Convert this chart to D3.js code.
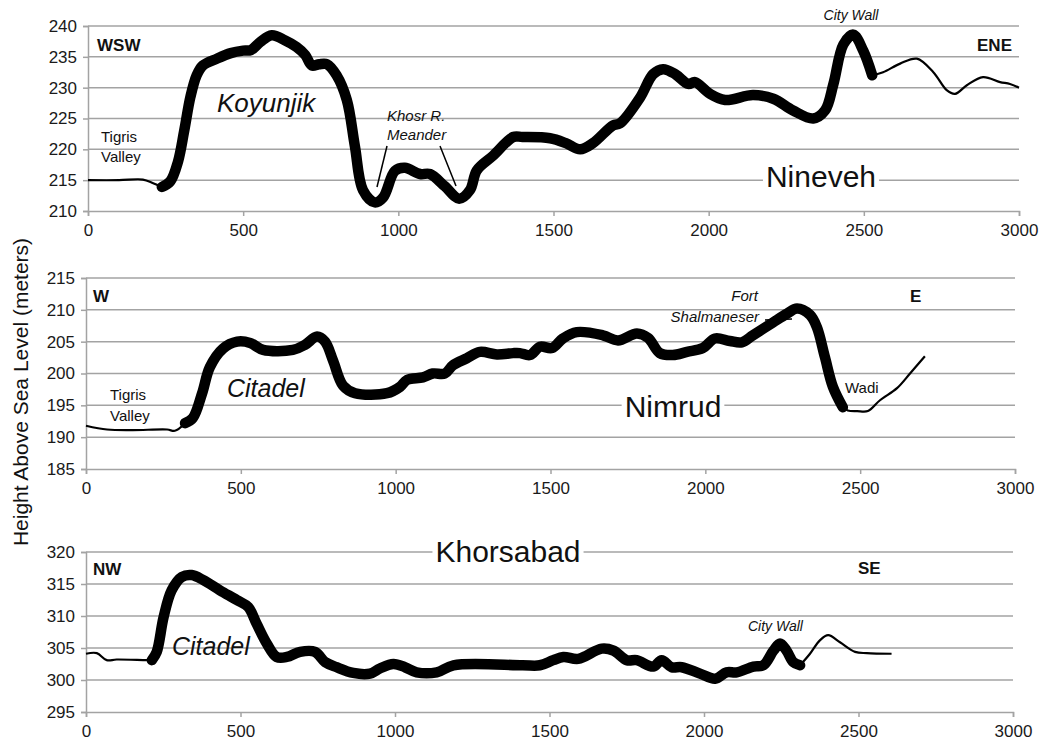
<!DOCTYPE html>
<html>
<head>
<meta charset="utf-8">
<script src="https://cdn.jsdelivr.net/npm/d3@7"></script>
<style>
  body { margin: 0; background: #fff; }
  svg { display: block; font-family: "Liberation Sans", Arial, sans-serif; }
</style>
</head>
<body>
<script>
// elevation profiles, distance in m along the section
var ninevehDist = [0, 100, 177, 210, 238, 265, 290, 310, 330, 350, 370, 415, 460, 500, 525, 555, 592, 634, 672, 700, 721, 745, 770, 801, 834, 860, 886, 924, 951, 989, 1021, 1070, 1102, 1150, 1196, 1231, 1253, 1306, 1370, 1400, 1489, 1540, 1586, 1627, 1692, 1714, 1779, 1821, 1853, 1892, 1934, 1956, 2004, 2053, 2143, 2208, 2272, 2337, 2375, 2402, 2434, 2466, 2498, 2527, 2562, 2617, 2671, 2724, 2767, 2794, 2832, 2884, 2939, 2971, 3000];
var ninevehElev = [215, 215, 215.1, 214.5, 213.9, 214.8, 218, 223, 228.5, 232, 233.6, 234.7, 235.6, 236, 236.1, 237.4, 238.5, 237.7, 236.6, 235.3, 233.6, 233.8, 233.8, 232, 228, 220.5, 213.4, 211.4, 212.2, 216.5, 217, 216, 216, 214, 212, 213.4, 216.6, 219, 222, 222, 221.8, 221, 220, 221, 223.9, 224.2, 228.4, 232.2, 233, 232.2, 230.6, 230.9, 229, 228, 228.8, 228.2, 226.3, 225, 226.3, 230.6, 237, 238.6, 236, 232, 232.5, 233.9, 234.7, 232.5, 229.6, 229, 230.4, 231.7, 230.9, 230.6, 230];

var nimrudDist = [0, 68, 150, 262, 287, 320, 345, 375, 400, 442, 488, 530, 572, 668, 707, 746, 772, 798, 830, 869, 972, 1014, 1037, 1088, 1120, 1159, 1185, 1230, 1272, 1327, 1379, 1401, 1434, 1466, 1505, 1540, 1585, 1669, 1718, 1779, 1815, 1853, 1895, 1941, 1992, 2031, 2079, 2118, 2154, 2218, 2264, 2296, 2338, 2360, 2386, 2412, 2444, 2460, 2490, 2525, 2564, 2619, 2661, 2709];
var nimrudElev = [191.8, 191.2, 191.1, 191.2, 191, 192.2, 193, 196.9, 201, 203.9, 205, 204.8, 203.7, 203.7, 204.5, 205.8, 205, 202, 198.1, 196.9, 196.9, 197.9, 199, 199.4, 200, 200, 201.3, 202.4, 203.4, 203, 203.2, 203.2, 202.9, 204.2, 204, 205.5, 206.5, 206, 205.2, 206.3, 205.6, 203.2, 202.9, 203.4, 204, 205.5, 205.1, 204.9, 206, 208, 209.4, 210.2, 209.2, 207.3, 202.6, 197.9, 194.7, 194.2, 194.1, 194.1, 195.8, 197.7, 200, 202.7];

var khorsabadDist = [0, 35, 67, 99, 196, 213, 229, 251, 277, 310, 342, 380, 434, 488, 525, 552, 585, 617, 650, 693, 741, 774, 811, 865, 919, 951, 995, 1032, 1070, 1135, 1189, 1413, 1469, 1512, 1545, 1593, 1669, 1707, 1750, 1782, 1836, 1863, 1895, 1928, 1987, 2036, 2073, 2106, 2160, 2192, 2225, 2246, 2267, 2289, 2311, 2343, 2375, 2402, 2440, 2489, 2527, 2607];
var khorsabadElev = [304.1, 304.2, 303.1, 303.2, 303.1, 303.1, 304.4, 309.8, 314, 316.1, 316.4, 315.6, 314, 312.5, 311.4, 308.8, 305.7, 303.6, 303.6, 304.4, 304.4, 302.8, 302, 301.1, 301, 301.8, 302.5, 302, 301.2, 301.2, 302.3, 302.3, 302.3, 303.1, 303.6, 303.3, 304.9, 304.6, 303.1, 303.1, 302.1, 303.1, 302, 302, 301, 300.2, 301.2, 301.2, 302.1, 302.3, 304.6, 305.7, 304.6, 302.8, 302.3, 304.1, 306.2, 307, 305.9, 304.4, 304.2, 304.1];

// stretch drawn heavy (inside the site) [from, to]
var ninevehThick = [238, 2527];
var nimrudThick = [320, 2444];
var khorsabadThick = [213, 2311];

var xTicks = [0, 500, 1000, 1500, 2000, 2500, 3000];
var ninevehRange = [210, 240];
var nimrudRange = [185, 215];
var khorsabadRange = [295, 320];

var grey = '#a3a3a3';

var svg = d3.select('body').append('svg')
    .attr('width', 1050)
    .attr('height', 746);

svg.append('rect').attr('width', 1050).attr('height', 746).attr('fill', '#fff');

var panels = [
  { name: 'Nineveh', dist: ninevehDist, elev: ninevehElev, thick: ninevehThick, range: ninevehRange,
    left: 88, right: 1019, top: 26, bottom: 211, titleX: 821, titleY: 187 },
  { name: 'Nimrud', dist: nimrudDist, elev: nimrudElev, thick: nimrudThick, range: nimrudRange,
    left: 86, right: 1015, top: 278, bottom: 469, titleX: 673, titleY: 417 },
  { name: 'Khorsabad', dist: khorsabadDist, elev: khorsabadElev, thick: khorsabadThick, range: khorsabadRange,
    left: 86, right: 1013, top: 552, bottom: 712, titleX: 508, titleY: 562 }
];

panels.forEach(function(p) {
  var x = d3.scaleLinear().domain([0, 3000]).range([p.left, p.right]);
  var y = d3.scaleLinear().domain(p.range).range([p.bottom, p.top]);
  var g = svg.append('g');
  var yTicks = d3.range(p.range[0], p.range[1] + 1, 5);

  // gridlines
  g.selectAll('.grid')
    .data(yTicks.slice(1))
    .enter().append('line')
    .attr('x1', p.left).attr('x2', p.right)
    .attr('y1', function(d) { return y(d); })
    .attr('y2', function(d) { return y(d); })
    .attr('stroke', grey).attr('stroke-width', 1.5);

  var ya = g.append('g')
    .attr('transform', 'translate(' + p.left + ',0)')
    .call(d3.axisLeft(y).tickValues(yTicks).tickSize(5).tickPadding(6).tickFormat(d3.format('d')));
  var xa = g.append('g')
    .attr('transform', 'translate(0,' + p.bottom + ')')
    .call(d3.axisBottom(x).tickValues(xTicks).tickSize(5).tickPadding(8).tickFormat(d3.format('d')));
  [ya, xa].forEach(function(a) {
    a.selectAll('path, line').attr('stroke', grey).attr('stroke-width', 1.5);
    a.selectAll('text').attr('fill', '#1a1a1a').style('font-size', '17px').style('font-family', '"Liberation Sans", Arial, sans-serif');
  });

  // title with white box over the gridline
  var box = g.append('rect').attr('fill', '#fff');
  var t = g.append('text')
    .attr('x', p.titleX).attr('y', p.titleY)
    .attr('text-anchor', 'middle')
    .style('font-size', '30px')
    .attr('fill', '#111')
    .text(p.name);
  var bb = t.node().getBBox();
  box.attr('x', bb.x - 3).attr('y', bb.y + 2)
    .attr('width', bb.width + 6).attr('height', bb.height - 4);

  var pts = p.dist.map(function(d, i) { return [d, p.elev[i]]; });
  var before = pts.filter(function(d) { return d[0] <= p.thick[0]; });
  var inside = pts.filter(function(d) { return d[0] >= p.thick[0] && d[0] <= p.thick[1]; });
  var after = pts.filter(function(d) { return d[0] >= p.thick[1]; });

  var line = d3.line()
    .x(function(d) { return x(d[0]); })
    .y(function(d) { return y(d[1]); })
    .curve(d3.curveCatmullRom.alpha(0.5));

  [before, after].forEach(function(seg) {
    if (seg.length < 2) return;
    g.append('path').attr('d', line(seg))
      .attr('fill', 'none').attr('stroke', '#000').attr('stroke-width', 2.2)
      .attr('stroke-linejoin', 'round');
  });
  g.append('path').attr('d', line(inside))
    .attr('fill', 'none').attr('stroke', '#000').attr('stroke-width', 10.5)
    .attr('stroke-linecap', 'round').attr('stroke-linejoin', 'round');
});

// annotations
function label(txt, px, py, opts) {
  opts = opts || {};
  svg.append('text')
    .attr('x', px).attr('y', py)
    .attr('text-anchor', opts.anchor || 'start')
    .style('font-size', (opts.size || 15) + 'px')
    .style('font-weight', opts.bold ? 'bold' : 'normal')
    .style('font-style', opts.italic ? 'italic' : 'normal')
    .attr('fill', '#111')
    .text(txt);
}
function leader(x1, y1, x2, y2) {
  svg.append('line').attr('x1', x1).attr('y1', y1).attr('x2', x2).attr('y2', y2)
    .attr('stroke', '#000').attr('stroke-width', 1.5);
}

// Nineveh
label('WSW', 97, 51, { bold: true, size: 17 });
label('ENE', 1012, 51, { bold: true, size: 17, anchor: 'end' });
label('Tigris', 101, 142);
label('Valley', 101, 162);
label('Koyunjik', 217, 112, { italic: true, size: 26 });
label('Khosr R.', 387, 121, { italic: true, size: 15 });
label('Meander', 387, 140, { italic: true, size: 15 });
leader(387, 146, 377, 187);
leader(440, 146, 456, 186);
label('City Wall', 851, 20, { italic: true, size: 14, anchor: 'middle' });

// Nimrud
label('W', 93, 302, { bold: true, size: 17 });
label('E', 910, 302, { bold: true, size: 17 });
label('Tigris', 110, 400);
label('Valley', 110, 421);
label('Citadel', 227, 397, { italic: true, size: 25 });
label('Fort', 758, 301, { italic: true, anchor: 'end' });
label('Shalmaneser', 759, 322, { italic: true, anchor: 'end' });
leader(765, 320, 792, 319);
label('Wadi', 845, 393);

// Khorsabad
label('NW', 93, 575, { bold: true, size: 17 });
label('SE', 858, 574, { bold: true, size: 17 });
label('Citadel', 172, 655, { italic: true, size: 25 });
label('City Wall', 748, 631, { italic: true, size: 14 });

// shared y axis title
svg.append('text')
  .attr('transform', 'translate(28,392) rotate(-90)')
  .attr('text-anchor', 'middle')
  .style('font-size', '21px')
  .attr('fill', '#111')
  .text('Height Above Sea Level (meters)');
</script>
</body>
</html>
